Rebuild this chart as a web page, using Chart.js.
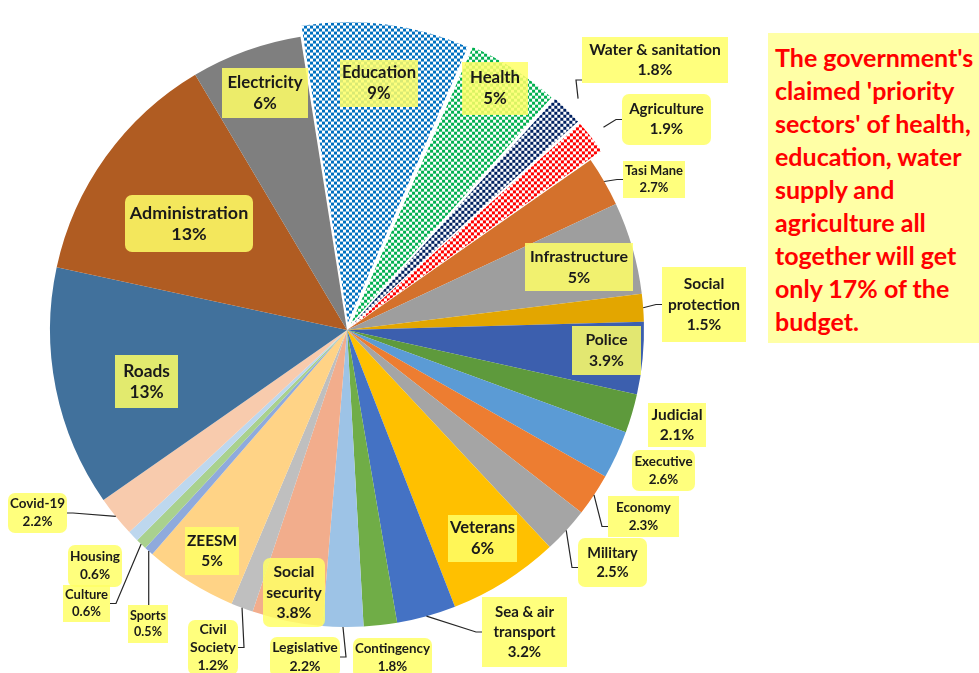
<!DOCTYPE html>
<html>
<head>
<meta charset="utf-8">
<script src="https://cdn.jsdelivr.net/npm/chart.js@4.4.1/dist/chart.umd.min.js"></script>
<style>
  html, body { margin: 0; padding: 0; background: #fff; }
  #wrap { position: relative; width: 979px; height: 673px; overflow: hidden; }
  #note {
    position: absolute; left: 768px; top: 33px; width: 211px; height: 310px;
    box-sizing: border-box; padding: 8px 0 0 7px;
    background: #ffffa6; color: #ff0000;
    font: bold 25px Lato, sans-serif; line-height: 33px; white-space: nowrap;
  }
</style>
</head>
<body>
<div id="wrap">
  <canvas id="pie" width="979" height="673"></canvas>
  <div id="note">The government's<br>claimed 'priority<br>sectors' of health,<br>education, water<br>supply and<br>agriculture all<br>together will get<br>only 17% of the<br>budget.</div>
</div>
<script>
// budget share per sector (%), clockwise from Education
const categories = [
  'Education', 'Health', 'Water & sanitation', 'Agriculture', 'Tasi Mane',
  'Infrastructure', 'Social protection', 'Police', 'Judicial', 'Executive',
  'Economy', 'Military', 'Veterans', 'Sea & air transport', 'Contingency',
  'Legislative', 'Social security', 'Civil Society', 'ZEESM', 'Sports',
  'Culture', 'Housing', 'Covid-19', 'Roads', 'Administration', 'Electricity'
]
const values = [
  9, 5, 1.8, 1.9, 2.7,
  5, 1.5, 3.9, 2.1, 2.6,
  2.3, 2.5, 6, 3.2, 1.8,
  2.2, 3.8, 1.2, 5, 0.5,
  0.6, 0.6, 2.2, 13, 13, 6
]
// the 'priority sectors' are pulled out and hatched
const priority = ['Education', 'Health', 'Water & sanitation', 'Agriculture']

const sliceColors = [
  '#0070c0', '#00b050', '#002060', '#ff0000', '#d4712c',
  '#9e9e9e', '#e3a600', '#3c5fae', '#5e9a3c', '#5b9bd5',
  '#ed7d31', '#a5a5a5', '#ffc000', '#4472c4', '#70ad47',
  '#9dc3e6', '#f2ad8c', '#bfbfbf', '#ffd386', '#8faadc',
  '#a9d18e', '#bdd7ee', '#f8cbad', '#41719c', '#b05c22', '#7f7f7f'
]

// label boxes: [x, y, w, h]
const callouts = [
  { name: 'Education', box: [340, 60, 78, 47], size: 16.8 },
  { name: 'Health', box: [462, 62, 66, 53], size: 16.8 },
  { name: 'Water & sanitation', box: [582, 37, 146, 46], size: 15.7, lead: 'left', dy: 20 },
  { name: 'Agriculture', box: [622, 94, 89, 51], size: 15, round: true, lead: 'left' },
  { name: 'Tasi Mane', box: [623, 161, 62, 37], size: 13.4, lead: 'left' },
  { name: 'Infrastructure', box: [525, 243, 108, 48], size: 16 },
  { name: 'Social protection', text: 'Social\nprotection', box: [662, 267, 84, 75], size: 15.5, lead: 'left' },
  { name: 'Police', box: [572, 326, 69, 49], size: 15.7 },
  { name: 'Judicial', box: [648, 403, 58, 44], size: 15.5 },
  { name: 'Executive', box: [632, 450, 63, 41], size: 13.4, round: true },
  { name: 'Economy', box: [608, 496, 71, 41], size: 13.4, lead: 'left', dy: 10 },
  { name: 'Military', box: [578, 538, 69, 49], size: 14.5, round: true, lead: 'left', dy: 5 },
  { name: 'Veterans', box: [448, 515, 69, 47], size: 16.8 },
  { name: 'Sea & air transport', text: 'Sea & air\ntransport', box: [482, 597, 85, 70], size: 15, lead: 'left' },
  { name: 'Contingency', box: [353, 638, 79, 40], size: 13.4, round: true },
  { name: 'Legislative', box: [270, 637, 70, 40], size: 14, round: true, lead: 'right' },
  { name: 'Civil Society', text: 'Civil\nSociety', box: [188, 620, 50, 55], size: 14, round: true, lead: 'right' },
  { name: 'Social security', text: 'Social\nsecurity', box: [263, 558, 62, 69], size: 15.7, round: true },
  { name: 'ZEESM', box: [185, 527, 54, 48], size: 15.7 },
  { name: 'Sports', box: [128, 605, 40, 38], size: 13.4, lead: 'top' },
  { name: 'Housing', box: [68, 545, 54, 42], size: 14, round: true },
  { name: 'Culture', box: [63, 585, 47, 37], size: 13.4, lead: 'right' },
  { name: 'Covid-19', box: [8, 493, 59, 40], size: 14, round: true, lead: 'right' },
  { name: 'Roads', box: [115, 355, 63, 53], size: 17.3 },
  { name: 'Administration', box: [125, 195, 128, 57], size: 17.9, round: true },
  { name: 'Electricity', box: [222, 68, 86, 50], size: 16.8 }
]

function pct(v) {
  return v >= 5 ? `${v}%` : `${v.toFixed(1)}%`
}

function checker(ctx, color) {
  const tile = document.createElement('canvas')
  tile.width = 6
  tile.height = 6
  const t = tile.getContext('2d')
  t.fillStyle = '#fff'
  t.fillRect(0, 0, 6, 6)
  t.fillStyle = color
  t.fillRect(0, 0, 3, 3)
  t.fillRect(3, 3, 3, 3)
  return ctx.createPattern(tile, 'repeat')
}

const calloutPlugin = {
  id: 'callouts',
  afterDatasetsDraw(chart) {
    const ctx = chart.ctx
    const arcs = chart.getDatasetMeta(0).data
    ctx.save()
    callouts.forEach(c => {
      const i = categories.indexOf(c.name)
      const [bx, by, bw, bh] = c.box
      if (c.lead) {
        const arc = arcs[i]
        const p = arc.getProps(['x', 'y', 'startAngle', 'endAngle', 'outerRadius'], true)
        const mid = (p.startAngle + p.endAngle) / 2
        const r = p.outerRadius + (arc.options.offset || 0)
        const px = p.x + Math.cos(mid) * r
        const py = p.y + Math.sin(mid) * r
        const ay = by + bh / 2 + (c.dy || 0)
        ctx.beginPath()
        ctx.moveTo(px, py)
        if (c.lead === 'left') {
          ctx.lineTo(bx - 6, ay)
          ctx.lineTo(bx, ay)
        } else if (c.lead === 'right') {
          ctx.lineTo(bx + bw + 6, ay)
          ctx.lineTo(bx + bw, ay)
        } else {
          ctx.lineTo(px, by)
        }
        ctx.strokeStyle = '#262626'
        ctx.lineWidth = 1.2
        ctx.stroke()
      }
      ctx.fillStyle = 'rgba(255,255,102,0.85)'
      ctx.beginPath()
      if (c.round) ctx.roundRect(bx, by, bw, bh, 7)
      else ctx.rect(bx, by, bw, bh)
      ctx.fill()

      const lines = (c.text || c.name).split('\n').concat(pct(values[i]))
      let size = c.size
      ctx.font = `bold ${size}px Lato, sans-serif`
      const widest = Math.max(...lines.map(l => ctx.measureText(l).width))
      if (widest > bw - 4) {
        size = size * (bw - 4) / widest
        ctx.font = `bold ${size}px Lato, sans-serif`
      }
      const lh = Math.min(size * 1.32, 21)
      ctx.fillStyle = '#1a1a1a'
      ctx.textAlign = 'center'
      ctx.textBaseline = 'middle'
      const top = by + bh / 2 - lh * (lines.length - 1) / 2
      lines.forEach((l, k) => ctx.fillText(l, bx + bw / 2, top + k * lh))
    })
    ctx.restore()
  }
}

const canvas = document.getElementById('pie')
const ctx = canvas.getContext('2d')
const colors = categories.map((c, i) =>
  priority.includes(c) ? checker(ctx, sliceColors[i]) : sliceColors[i])
const offsets = categories.map(c => priority.includes(c) ? 30 : 0)

new Chart(ctx, {
  type: 'pie',
  data: {
    labels: categories,
    datasets: [{
      data: values,
      backgroundColor: colors,
      offset: offsets,
      borderWidth: 0
    }]
  },
  options: {
    responsive: false,
    animation: false,
    events: [],
    rotation: -9,
    layout: { padding: { left: 35, right: 320, top: 18, bottom: 31 } },
    plugins: {
      legend: { display: false },
      tooltip: { enabled: false }
    }
  },
  plugins: [calloutPlugin]
})
</script>
</body>
</html>
